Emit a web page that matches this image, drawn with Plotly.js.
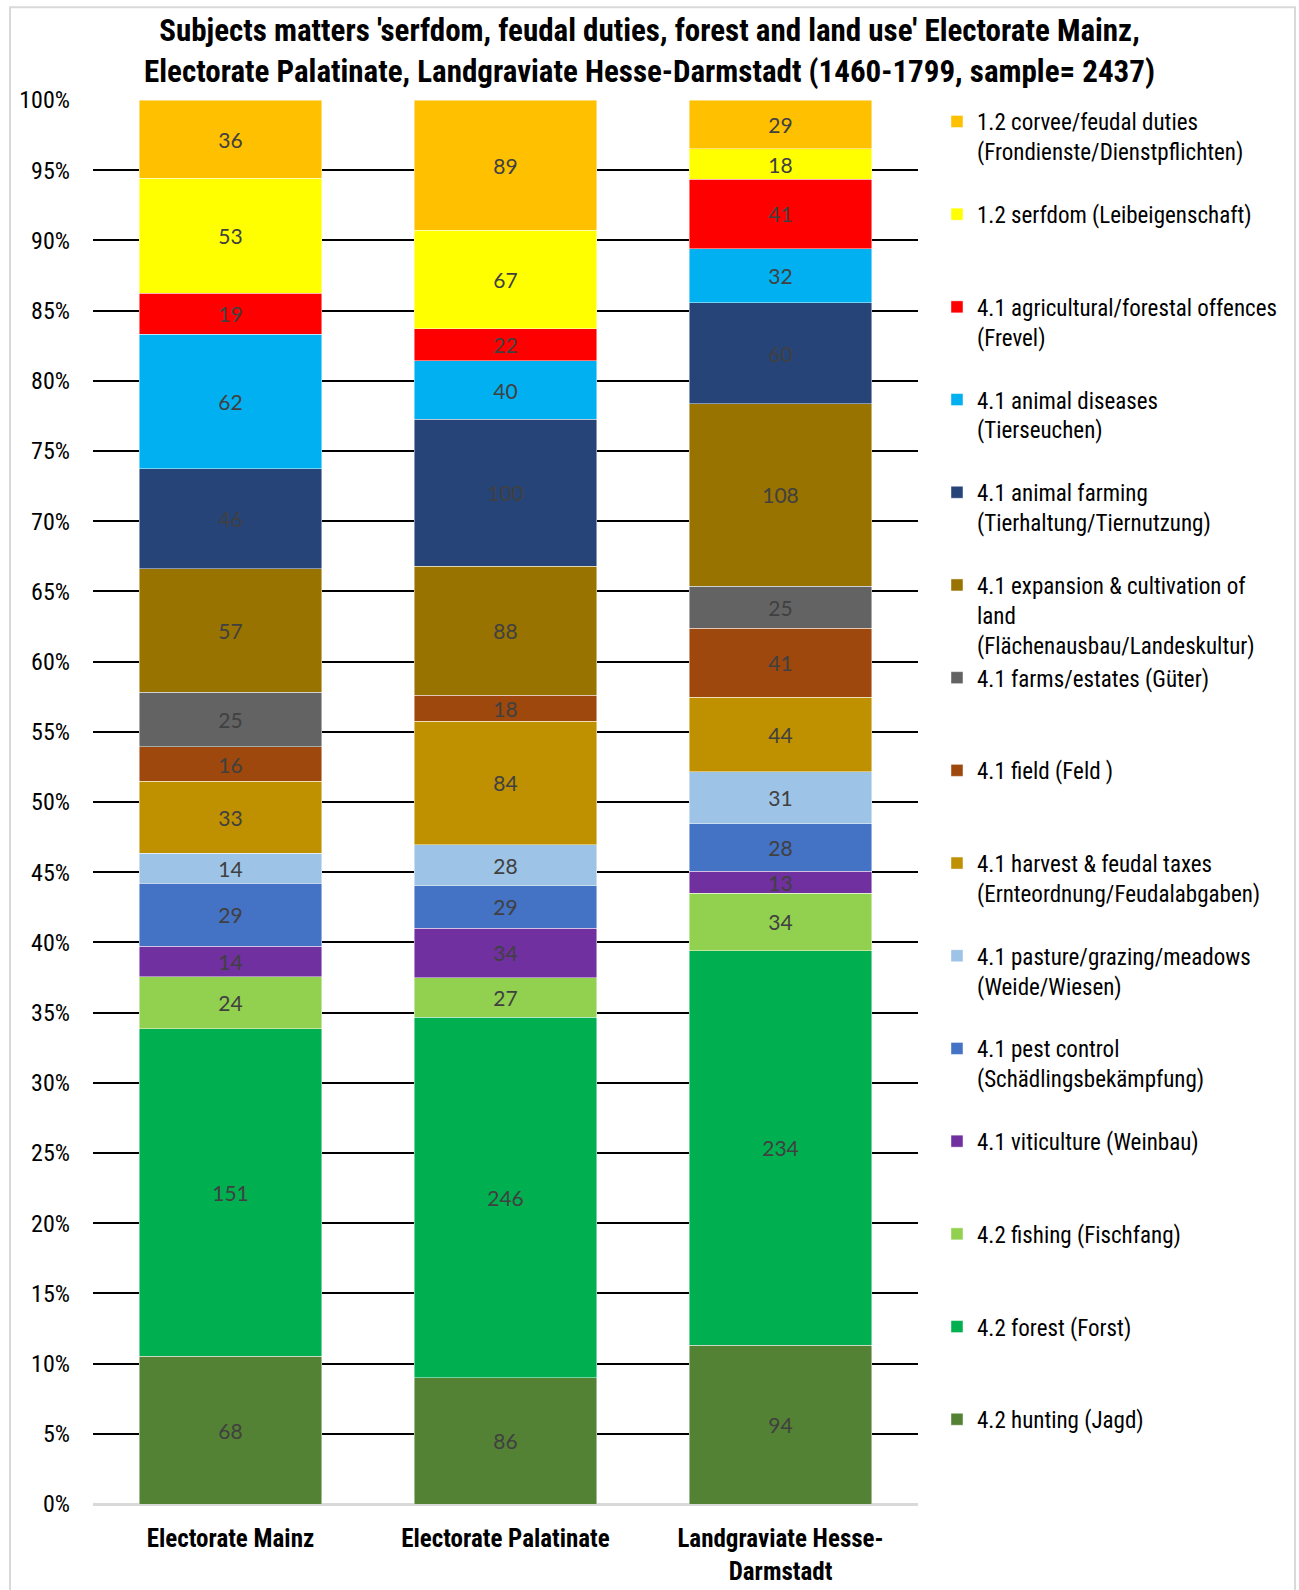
<!DOCTYPE html>
<html>
<head>
<meta charset="utf-8">
<script src="https://cdn.plot.ly/plotly-3.0.1.min.js"></script>
<style>
  html, body { margin: 0; padding: 0; background: #ffffff; }
  #chart { width: 1299px; height: 1590px; }
</style>
</head>
<body>
<div id="chart"></div>
<script>
// Categories (x axis)
const categories = ["Electorate Mainz", "Electorate Palatinate", "Landgraviate Hesse-Darmstadt"];
const categoryLabels = ["Electorate Mainz", "Electorate Palatinate", "Landgraviate Hesse-<br>Darmstadt"];

// Y tick values and labels
const yTickVals = [0,5,10,15,20,25,30,35,40,45,50,55,60,65,70,75,80,85,90,95,100];
const yTickText = ["0%","5%","10%","15%","20%","25%","30%","35%","40%","45%","50%","55%","60%","65%","70%","75%","80%","85%","90%","95%","100%"];

// Series values (counts per category), bottom of stack first
const hunting      = [68, 86, 94];
const forest       = [151, 246, 234];
const fishing      = [24, 27, 34];
const viticulture  = [14, 34, 13];
const pestControl  = [29, 29, 28];
const pasture      = [14, 28, 31];
const harvest      = [33, 84, 44];
const field        = [16, 18, 41];
const farms        = [25, null, 25];
const expansion    = [57, 88, 108];
const animalFarming= [46, 100, 60];
const animalDiseases=[62, 40, 32];
const offences     = [19, 22, 41];
const serfdom      = [53, 67, 18];
const corvee       = [36, 89, 29];

// Series names (legend), same order as above
const seriesNames = [
  "4.2 hunting (Jagd)",
  "4.2 forest (Forst)",
  "4.2 fishing (Fischfang)",
  "4.1 viticulture (Weinbau)",
  "4.1 pest control<br>(Schädlingsbekämpfung)",
  "4.1 pasture/grazing/meadows<br>(Weide/Wiesen)",
  "4.1 harvest & feudal taxes<br>(Ernteordnung/Feudalabgaben)",
  "4.1 field (Feld )",
  "4.1 farms/estates (Güter)",
  "4.1 expansion & cultivation of<br>land<br>(Flächenausbau/Landeskultur)",
  "4.1 animal farming<br>(Tierhaltung/Tiernutzung)",
  "4.1 animal diseases<br>(Tierseuchen)",
  "4.1 agricultural/forestal offences<br>(Frevel)",
  "1.2 serfdom (Leibeigenschaft)",
  "1.2 corvee/feudal duties<br>(Frondienste/Dienstpflichten)"
];
const seriesValues = [hunting, forest, fishing, viticulture, pestControl, pasture, harvest,
  field, farms, expansion, animalFarming, animalDiseases, offences, serfdom, corvee];
const seriesColors = ["#548235", "#00B050", "#92D050", "#7030A0", "#4472C4", "#9DC3E6", "#BF9000",
  "#9E480E", "#636363", "#997300", "#264478", "#00B0F0", "#FF0000", "#FFFF00", "#FFC000"];

const narrow = "'Liberation Sans Narrow', 'Arial Narrow', 'Roboto Condensed', 'DejaVu Sans Condensed', sans-serif";

function padLines(name) {
  const n = name.split("<br>").length;
  let s = name;
  for (let i = n; i < 3; i++) s += "<br> ";
  return s;
}

const nSeries = seriesNames.length;
const traces = seriesNames.map((name, i) => ({
  type: "bar",
  name: padLines(name),
  legendgroup: "g" + i,
  legendrank: nSeries - i,
  x: categories,
  y: seriesValues[i],
  text: seriesValues[i].map(v => (v === null || v === 0) ? "" : String(v)),
  textposition: "inside",
  insidetextanchor: "middle",
  textangle: 0,
  constraintext: "none",
  textfont: { family: "Lato, 'Open Sans', sans-serif", size: 21, color: "#404040" },
  marker: { color: seriesColors[i], line: { color: "rgba(255,255,255,0.6)", width: 0.75 } },
  hoverinfo: "skip"
}));

const layout = {
  width: 1299,
  height: 1590,
  margin: { l: 93, r: 381, t: 100, b: 86 },
  paper_bgcolor: "#ffffff",
  plot_bgcolor: "#ffffff",
  barmode: "stack",
  barnorm: "percent",
  bargap: 0.337,
  hovermode: false,
  showlegend: true,
  title: {
    text: "<b>Subjects matters 'serfdom, feudal duties, forest and land use' Electorate Mainz,<br>Electorate Palatinate, Landgraviate Hesse-Darmstadt (1460-1799, sample= 2437)</b>",
    font: { family: narrow, size: 31, color: "#000000" },
    x: 0.5, xref: "container", xanchor: "center",
    y: 0.974, yref: "container", yanchor: "top"
  },
  xaxis: {
    type: "category",
    tickvals: categories,
    ticktext: categoryLabels,
    tickfont: { family: narrow, size: 25, color: "#000000", weight: "bold" },
    showgrid: false,
    showline: true,
    linecolor: "#d9d9d9",
    linewidth: 2,
    ticks: "",
    ticklabelstandoff: 11,
    fixedrange: true
  },
  yaxis: {
    range: [0, 100],
    tickmode: "array",
    tickvals: yTickVals,
    ticktext: yTickText,
    tickfont: { family: narrow, size: 24, color: "#000000" },
    showgrid: true,
    gridcolor: "#000000",
    gridwidth: 2,
    zeroline: true,
    zerolinecolor: "#d9d9d9",
    zerolinewidth: 2,
    ticks: "",
    ticklabelstandoff: 22,
    fixedrange: true
  },
  legend: {
    x: 1.023, xanchor: "left",
    y: 1.0, yanchor: "top",
    traceorder: "grouped",
    tracegroupgap: 0,
    valign: "top",
    itemwidth: 30,
    font: { family: narrow, size: 23, color: "#000000" },
    bgcolor: "rgba(0,0,0,0)",
    itemclick: false,
    itemdoubleclick: false
  },
  shapes: [{
    type: "rect", xref: "paper", yref: "paper",
    x0: -0.1006, x1: 1.457, y0: -0.07, y1: 1.066,
    line: { color: "#d9d9d9", width: 2 },
    fillcolor: "rgba(0,0,0,0)",
    layer: "below"
  }]
};

Plotly.newPlot("chart", traces, layout, { staticPlot: true, displayModeBar: false });
</script>
</body>
</html>
